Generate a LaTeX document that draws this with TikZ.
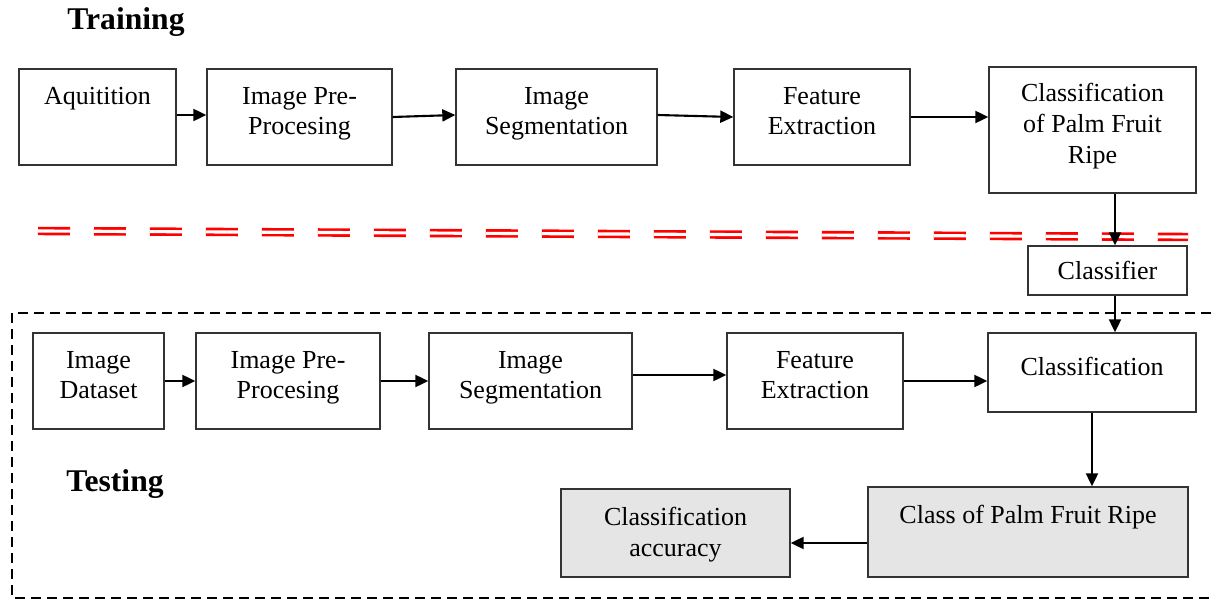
\documentclass[tikz,border=0pt]{standalone}
\usepackage{fontspec}
\setmainfont{Liberation Serif}
\usetikzlibrary{arrows.meta,positioning,calc}

\tikzset{
  block/.style={draw=black!80, line width=0.8pt, inner sep=0pt, minimum height=1.92cm},
  greyblock/.style={block, fill=black!10},
  txt/.style={align=center, anchor=north, inner sep=0pt, font=\fontsize{14.8}{17.5}\selectfont},
  title/.style={font=\fontsize{18}{21}\selectfont\bfseries},
  arr/.style={-{Triangle[length=0.26cm,width=0.24cm]}, line width=1.2pt},
  redline/.style={draw=red, line width=1.5pt, double=white, double distance=1.8pt, dash pattern=on 0.64cm off 0.48cm},
  dashbox/.style={draw=black, line width=1pt, dash pattern=on 0.2cm off 0.12cm},
}

\begin{document}
\begin{tikzpicture}[x=0.02cm, y=-0.02cm]
	\useasboundingbox (0,0) rectangle (1214,601);

	% Training
	\node[title] (train) at (126,22) {Training};
	\node[block, minimum width=3.14cm] (acq) at (97.5,117) {};
	\node[block, minimum width=3.70cm] (pre) at (299.5,117) {};
	\node[block, minimum width=4.02cm] (seg) at (556.5,117) {};
	\node[block, minimum width=3.52cm] (feat) at (822,117) {};
	\node[block, minimum width=4.14cm, minimum height=2.52cm] (cls) at (1092.5,130) {};
	\node[txt] (acq-t) at ([yshift=-0.37cm]acq.north) {Aquitition};
	\node[txt] (pre-t) at ([yshift=-0.37cm]pre.north) {Image Pre-\\Procesing};
	\node[txt] (seg-t) at ([yshift=-0.37cm]seg.north) {Image\\Segmentation};
	\node[txt] (feat-t) at ([yshift=-0.37cm]feat.north) {Feature\\Extraction};
	\node[txt] (cls-t) at ([yshift=-0.34cm]cls.north) {Classification\\of Palm Fruit\\Ripe};
	\draw[arr] ([yshift=0.04cm]acq.east) -- ([yshift=0.04cm]pre.west);
	\draw[arr] (pre.east) -- ([yshift=0.04cm]seg.west);
	\draw[arr] ([yshift=0.04cm]seg.east) -- (feat.west);
	\draw[arr] (feat.east) -- (feat.east -| cls.west);

	% split between the two stages
	\draw[redline] (38,231) -- (1188,237);

	% Classifier
	\node[block, minimum width=3.18cm, minimum height=0.98cm, font=\fontsize{14.8}{17.5}\selectfont] (clf) at (1107.5,270.5) {Classifier};
	\draw[arr] ([xshift=0.15cm]clf.north |- cls.south) -- ([xshift=0.15cm]clf.north);

	% Testing
	\draw[dashbox] (12,313) rectangle (1214.5,598);
	\node[title] (test) at (115,484) {Testing};
	\node[block, minimum width=2.62cm] (ds) at (98.5,381) {};
	\node[block, minimum width=3.68cm] (pre2) at (288,381) {};
	\node[block, minimum width=4.06cm] (seg2) at (530.5,381) {};
	\node[block, minimum width=3.52cm] (feat2) at (815,381) {};
	\node[block, minimum width=4.16cm, minimum height=1.58cm] (cls2) at (1092,372.5) {};
	\node[txt] (ds-t) at ([yshift=-0.37cm]ds.north) {Image\\Dataset};
	\node[txt] (pre2-t) at ([yshift=-0.37cm]pre2.north) {Image Pre-\\Procesing};
	\node[txt] (seg2-t) at ([yshift=-0.37cm]seg2.north) {Image\\Segmentation};
	\node[txt] (feat2-t) at ([yshift=-0.37cm]feat2.north) {Feature\\Extraction};
	\node[txt] (cls2-t) at ([yshift=-0.49cm]cls2.north) {Classification};
	\draw[arr] (ds.east) -- (pre2.west);
	\draw[arr] (pre2.east) -- (seg2.west);
	\draw[arr] ([yshift=0.12cm]seg2.east) -- ([yshift=0.12cm]feat2.west);
	\draw[arr] (feat2.east) -- (feat2.east -| cls2.west);
	\draw[arr] ([xshift=0.15cm]clf.south) -- ([xshift=0.15cm]clf.south |- cls2.north);

	% results
	\node[greyblock, minimum width=6.40cm, minimum height=1.80cm] (cpr) at (1028,532) {};
	\node[greyblock, minimum width=4.58cm, minimum height=1.76cm] (acc) at (675.5,533) {};
	\node[txt] (cpr-t) at ([yshift=-0.37cm]cpr.north) {Class of Palm Fruit Ripe};
	\node[txt] (acc-t) at ([yshift=-0.37cm]acc.north) {Classification\\accuracy};
	\draw[arr] (cls2.south) -- (cls2.south |- cpr.north);
	\draw[arr] ([yshift=-0.22cm]cpr.west) -- ([yshift=-0.22cm]cpr.west -| acc.east);
\end{tikzpicture}
\end{document}
